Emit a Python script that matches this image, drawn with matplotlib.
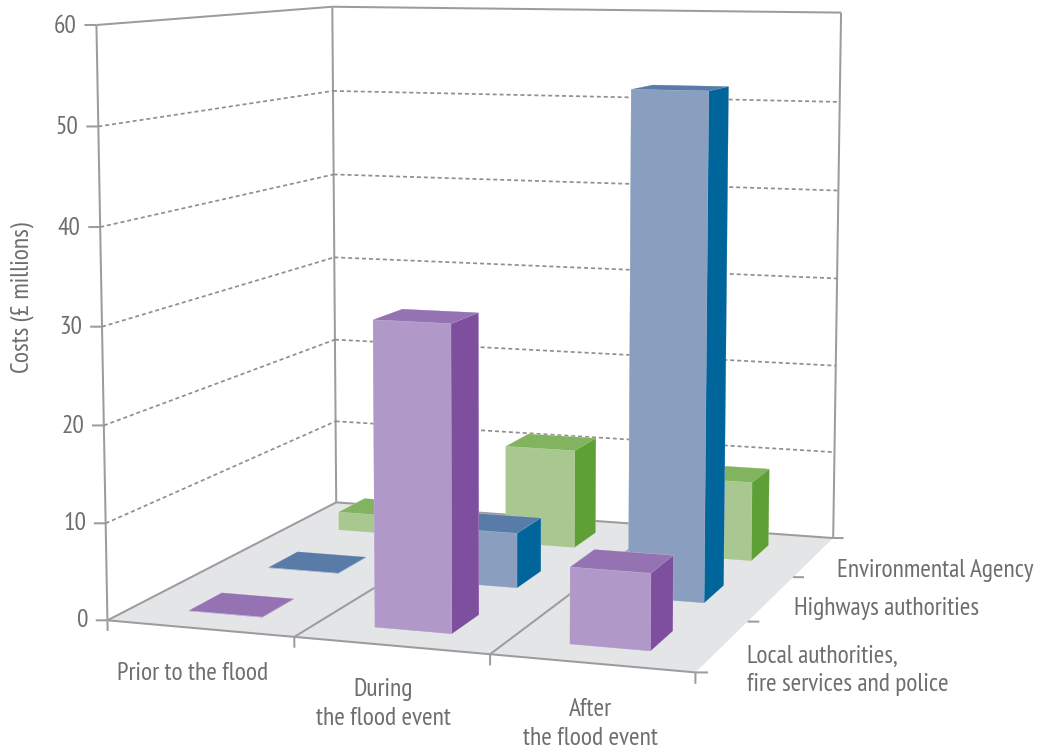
import numpy as np
import matplotlib
matplotlib.use('Agg')
import matplotlib.pyplot as plt
from matplotlib.transforms import offset_copy
from mpl_toolkits.mplot3d.art3d import Poly3DCollection

# ---- data -------------------------------------------------------------
categories = ['Prior to the flood', 'During\nthe flood event', 'After\nthe flood event']
series_names = ['Local authorities,\nfire services and police', 'Highways authorities', 'Environmental Agency']
local_authorities = [0.05, 31.1, 7.7]
highways_authorities = [0.05, 5.9, 53.1]
environmental_agency = [2.1, 11.1, 8.8]
z_ticks = [0, 10, 20, 30, 40, 50, 60]
y_label = 'Costs (£ millions)'

# ---- style ------------------------------------------------------------
FONT = ['PT Sans Narrow', 'DejaVu Sans']
TXT = '#6d6e71'
LINE = '#9c9c9f'
GRID = '#8f8f92'
FLOOR = '#e4e5e7'
PALETTE = [('#b098c9', '#9573b3', '#7d4f9e'),
           ('#8a9ebf', '#587ba8', '#00659a'),
           ('#a9c790', '#82b35e', '#5ea035')]

W, H = 1040, 751
fig = plt.figure(figsize=(W / 100, H / 100), dpi=100, facecolor='white')
ax = fig.add_axes([0, 0, 1, 1], projection='3d', computed_zorder=False)
ax.apply_aspect = lambda position=None: None
ax.set_axis_off()
ax.patch.set_visible(False)

# ---- camera: fit a projective camera to where the box corners sit ------
world = [(0, 0, 0), (0, 0, 10), (0, 0, 50), (0, 0, 60), (0, 3, 0), (0, 3, 50), (0, 3, 60),
         (1, 0, 0), (2, 0, 0), (3, 0, 0), (3, 3, 0), (3, 3, 10), (3, 3, 50), (3, 3, 60), (3, 1, 0), (3, 2, 0),
         (2.7, 1.3, 53.1), (2.3, 1.3, 53.1), (1.7, 0.3, 31.1), (1.3, 0.3, 31.1)]
image = [(108, 620), (105, 523), (98, 127), (96, 26), (337, 503), (333, 91), (332, 6),
         (294, 637), (490, 654), (695, 673), (834, 538), (833, 452), (838, 102), (842, 13), (748, 622), (793, 577),
         (710, 91), (632, 89), (451, 323), (373, 319)]
screen = ax.transData.inverted().transform([(u, H - v) for u, v in image])
A, b = [], []
for (x, y, z), (u, v) in zip(world, screen):
    A.append([x, y, z, 1, 0, 0, 0, 0, -u * x, -u * y, -u * z]); b.append(u)
    A.append([0, 0, 0, 0, x, y, z, 1, -v * x, -v * y, -v * z]); b.append(v)
s = np.linalg.lstsq(np.array(A, float), np.array(b, float), rcond=None)[0]
P = np.append(s, 1).reshape(3, 4)
M = np.vstack([P[0], P[1], [0, 0, 0, -1], P[2]])
ax.get_proj = lambda: M
ax.M = M
ax.set_xlim(0, 3); ax.set_ylim(0, 3); ax.set_zlim(0, 60)
ax.set_xticks([]); ax.set_yticks([]); ax.set_zticks([])


def seg(xs, ys, zs, z=2, **kw):
    opts = dict(color=LINE, lw=1.45, solid_capstyle='butt', zorder=z)
    opts.update(kw)
    ax.plot(xs, ys, zs, **opts)


# ---- floor ------------------------------------------------------------
ax.add_collection3d(Poly3DCollection([[(0, 0, 0), (3, 0, 0), (3, 3, 0), (0, 3, 0)]],
                                     facecolors=FLOOR, edgecolors='none', zorder=1))

# ---- walls and gridlines ----------------------------------------------
seg([0, 0], [0, 0], [0, 60])
seg([0, 0], [3, 3], [0, 60])
seg([3, 3], [3, 3], [0, 60])
seg([0, 0], [0, 3], [60, 60])
seg([0, 3], [3, 3], [60, 60])
for t in z_ticks[1:-1]:
    dash = dict(color=GRID, lw=1.25, linestyle=(0, (2.3, 1.7)))
    seg([0, 0], [0, 3], [t, t], **dash)
    seg([0, 3], [3, 3], [t, t], **dash)
seg([0, 3], [0, 0], [0, 0], z=3)
seg([0, 0], [0, 3], [0, 0], z=3)
seg([0, 3], [3, 3], [0, 0], z=3)
seg([1, 1], [0, 3], [0, 0], z=3)
seg([2, 2], [0, 3], [0, 0], z=3)

# ---- ticks ------------------------------------------------------------
for t in z_ticks:
    seg([-0.055, 0], [-0.018, 0], [t, t])
for i in range(4):
    seg([i, i], [0, 0], [0, -1.1])
for j in range(4):
    seg([3, 3.055], [j, j + 0.018], [0, 0])

# ---- bars, drawn back to front ----------------------------------------
values = [local_authorities, highways_authorities, environmental_agency]
z = 10
for j in (2, 1, 0):
    front, top, side = PALETTE[j]
    for i in range(3):
        ax.bar3d(i + 0.3, j + 0.3, 0, 0.4, 0.4, values[j][i],
                 color=[front, top, front, front, front, side],
                 shade=False, linewidth=0.3, edgecolor='#ffffff40', zorder=z)
        z += 1


# ---- text -------------------------------------------------------------
def txt(u, v, s, **kw):
    opts = dict(family=FONT, color=TXT, fontsize=18.3, va='center', linespacing=1.3)
    opts.update(kw)
    fig.text(u / W, 1 - v / H, s, **opts)


tick_trans = offset_copy(ax.transData, fig=fig, y=-2, units='dots')
for t in z_ticks:
    q = P @ np.array([-0.105, 0, t, 1.0])
    ax.text2D(q[0] / q[2], q[1] / q[2], str(t), transform=tick_trans,
              family=FONT, color=TXT, fontsize=18.3, ha='right', va='center')
txt(22, 298, y_label, rotation=90, ha='center')
txt(193, 674, categories[0], ha='center')
txt(383, 704, categories[1], ha='center')
txt(590, 724, categories[2], ha='center')
txt(747, 670, series_names[0], ha='left')
txt(794, 609, series_names[1], ha='left')
txt(837, 570, series_names[2], ha='left')

fig.savefig('out.png', dpi=100)
